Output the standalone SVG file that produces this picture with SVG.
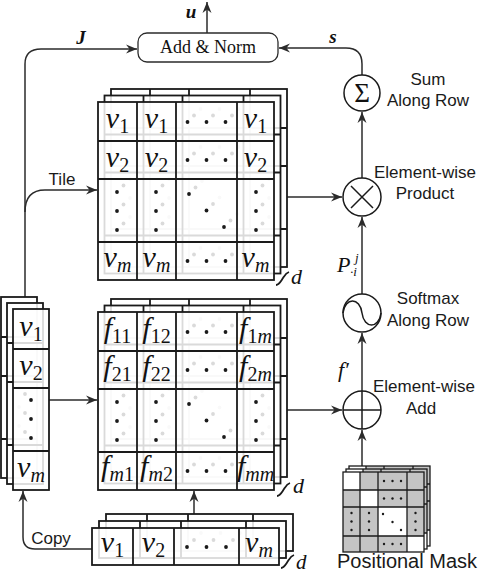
<svg xmlns="http://www.w3.org/2000/svg" width="482" height="574" viewBox="0 0 482 574">
<style>
.g{stroke:#1a1a1a;stroke-width:1.8;fill:none}
.lay{fill:#fff;fill-opacity:0.84;stroke:#1a1a1a;stroke-width:1.8}
.d{fill:#1a1a1a}
.c{stroke:#2b2b2b;stroke-width:1.5;fill:none;marker-end:url(#arr)}
.op{fill:#fff;stroke:#1a1a1a;stroke-width:1.5}
.lbl{font-family:"Liberation Sans",Arial,sans-serif;font-size:17px;fill:#1a1a1a;text-anchor:middle}
.big{font-size:20px}
.m{font-family:"Liberation Serif","Times New Roman",serif;font-style:italic;fill:#111}
.mv{font-size:30px;text-anchor:middle}
.s{font-size:20px}
.n{font-style:normal}
.bm{font-weight:bold;font-size:19px;text-anchor:middle}
.mg{stroke:#1a1a1a;stroke-width:1.3;fill:none}
.gr{fill:#c4c4c4}
.wh{fill:#fff}
</style>
<defs>
<marker id="arr" markerUnits="userSpaceOnUse" markerWidth="12" markerHeight="10" refX="11" refY="5" orient="auto"><path d="M0,0.5L11,5L0,9.5L3.5,5Z" fill="#2b2b2b"/></marker>
<g id="mdots" class="d">
<circle cx="89.5" cy="20" r="1.9"/><circle cx="108.5" cy="20" r="1.9"/><circle cx="127.5" cy="20" r="1.9"/>
<circle cx="89.5" cy="58" r="1.9"/><circle cx="108.5" cy="58" r="1.9"/><circle cx="127.5" cy="58" r="1.9"/>
<circle cx="19" cy="90" r="1.9"/><circle cx="19" cy="109" r="1.9"/><circle cx="19" cy="128" r="1.9"/>
<circle cx="58" cy="90" r="1.9"/><circle cx="58" cy="109" r="1.9"/><circle cx="58" cy="128" r="1.9"/>
<circle cx="91" cy="92" r="1.9"/><circle cx="108.5" cy="108.5" r="1.9"/><circle cx="126" cy="125" r="1.9"/>
<circle cx="158" cy="90" r="1.9"/><circle cx="158" cy="109" r="1.9"/><circle cx="158" cy="128" r="1.9"/>
<circle cx="89.5" cy="159" r="1.9"/><circle cx="108.5" cy="159" r="1.9"/><circle cx="127.5" cy="159" r="1.9"/>
</g>
<g id="mlay">
<rect class="lay" width="176" height="178"/>
<path class="g" d="M39,0V178M78,0V178M139,0V178M0,39H176M0,77H176M0,140H176"/>
<use href="#mdots"/>
</g>
<g id="vlay">
<rect class="lay" width="36" height="181"/>
<path class="g" d="M0,40H36M0,79H36M0,142H36"/>
<g class="d"><circle cx="18" cy="91" r="1.9"/><circle cx="18" cy="110" r="1.9"/><circle cx="18" cy="129" r="1.9"/></g>
</g>
<g id="hlay">
<rect class="lay" width="187" height="37"/>
<path class="g" d="M41,0V37M82,0V37M147,0V37"/>
<g class="d"><circle cx="95" cy="19" r="1.9"/><circle cx="114.5" cy="19" r="1.9"/><circle cx="134" cy="19" r="1.9"/></g>
</g>
<g id="mklay">
<rect class="gr" width="81" height="80"/>
<rect class="wh" x="0" y="0" width="17" height="18"/>
<rect class="wh" x="17" y="18" width="18" height="17"/>
<rect class="wh" x="35" y="35" width="29" height="29"/>
<rect class="wh" x="64" y="64" width="17" height="16"/>
<rect class="mg" width="81" height="80"/>
<path class="mg" d="M17,0V80M35,0V80M64,0V80M0,18H81M0,35H81M0,64H81"/>
<g class="d">
<circle cx="41" cy="9" r="1.2"/><circle cx="49.5" cy="9" r="1.2"/><circle cx="58" cy="9" r="1.2"/>
<circle cx="41" cy="26.5" r="1.2"/><circle cx="49.5" cy="26.5" r="1.2"/><circle cx="58" cy="26.5" r="1.2"/>
<circle cx="8.5" cy="41" r="1.2"/><circle cx="8.5" cy="49.5" r="1.2"/><circle cx="8.5" cy="58" r="1.2"/>
<circle cx="26" cy="41" r="1.2"/><circle cx="26" cy="49.5" r="1.2"/><circle cx="26" cy="58" r="1.2"/>
<circle cx="40" cy="42" r="1.2"/><circle cx="49.5" cy="50" r="1.2"/><circle cx="58" cy="58" r="1.2"/>
<circle cx="72.5" cy="41" r="1.2"/><circle cx="72.5" cy="49.5" r="1.2"/><circle cx="72.5" cy="58" r="1.2"/>
<circle cx="41" cy="72" r="1.2"/><circle cx="49.5" cy="72" r="1.2"/><circle cx="58" cy="72" r="1.2"/>
</g>
</g>
</defs>

<g id="connectors">
<path class="c" d="M207,33V2"/>
<path class="c" d="M25,297V64Q25,49 41,49H137"/>
<path class="c" d="M25,212Q25,190 45,190H97"/>
<path class="c" d="M362,75V64Q362,48 346,48H279"/>
<path class="c" d="M362,178V112"/>
<path class="c" d="M362,294V217"/>
<path class="c" d="M362,391V333"/>
<path class="c" d="M362,466V430"/>
<path class="c" d="M287,197H342"/>
<path class="c" d="M287,410H342"/>
<path class="c" d="M49,400H97"/>
<path class="c" d="M194,514V491"/>
<path class="c" d="M92,549H35Q23,549 23,537V491"/>
</g>

<g id="add-norm">
<rect x="138" y="33" width="140" height="29" rx="9" fill="#fff" stroke="#2b2b2b" stroke-width="1.3"/>
<text x="208" y="53" font-family="Liberation Serif, Times New Roman, serif" font-size="18" text-anchor="middle" fill="#111">Add &amp; Norm</text>
</g>

<g id="tile-matrix">
<use href="#mlay" x="111" y="89"/>
<use href="#mlay" x="104.5" y="95.5"/>
<g transform="translate(98,102)">
<use href="#mlay"/>
<g class="m mv">
<text x="19.5" y="26">v<tspan class="s n" dy="5">1</tspan></text>
<text x="58.5" y="26">v<tspan class="s n" dy="5">1</tspan></text>
<text x="157.5" y="26">v<tspan class="s n" dy="5">1</tspan></text>
<text x="19.5" y="65">v<tspan class="s n" dy="5">2</tspan></text>
<text x="58.5" y="65">v<tspan class="s n" dy="5">2</tspan></text>
<text x="157.5" y="65">v<tspan class="s n" dy="5">2</tspan></text>
<text x="19.5" y="165">v<tspan class="s" dy="5">m</tspan></text>
<text x="58.5" y="165">v<tspan class="s" dy="5">m</tspan></text>
<text x="157.5" y="165">v<tspan class="s" dy="5">m</tspan></text>
</g>
</g>
<path class="g" stroke-width="1.5" d="M276,285C279,285 281,281 283,278C285,275 286,273 289,272"/>
<text class="m" x="291" y="284" font-size="22">d</text>
</g>

<g id="f-matrix">
<use href="#mlay" x="111" y="299"/>
<use href="#mlay" x="104.5" y="305.5"/>
<g transform="translate(98,312)">
<use href="#mlay"/>
<g class="m mv">
<text x="19.5" y="26">f<tspan class="s n" dy="5">11</tspan></text>
<text x="58.5" y="26">f<tspan class="s n" dy="5">12</tspan></text>
<text x="157.5" y="26">f<tspan class="s n" dy="5">1</tspan><tspan class="s">m</tspan></text>
<text x="19.5" y="64">f<tspan class="s n" dy="5">21</tspan></text>
<text x="58.5" y="64">f<tspan class="s n" dy="5">22</tspan></text>
<text x="157.5" y="64">f<tspan class="s n" dy="5">2</tspan><tspan class="s">m</tspan></text>
<text x="19.5" y="164">f<tspan class="s" dy="5">m</tspan><tspan class="s n">1</tspan></text>
<text x="58.5" y="164">f<tspan class="s" dy="5">m</tspan><tspan class="s n">2</tspan></text>
<text x="157.5" y="164">f<tspan class="s" dy="5">mm</tspan></text>
</g>
</g>
<path class="g" stroke-width="1.5" d="M277,496C280,496 282,492 284,489C286,486 287,484 290,483"/>
<text class="m" x="293" y="493" font-size="22">d</text>
</g>

<g id="left-vector">
<use href="#vlay" x="1" y="297"/>
<use href="#vlay" x="7" y="303"/>
<g transform="translate(13,309)">
<use href="#vlay"/>
<g class="m mv">
<text x="18" y="27">v<tspan class="s n" dy="5">1</tspan></text>
<text x="18" y="66">v<tspan class="s n" dy="5">2</tspan></text>
<text x="18" y="168">v<tspan class="s" dy="5">m</tspan></text>
</g>
</g>
</g>

<g id="bottom-vector">
<use href="#hlay" x="106" y="514"/>
<use href="#hlay" x="99" y="521"/>
<g transform="translate(92,528)">
<use href="#hlay"/>
<g class="m mv">
<text x="20.5" y="24">v<tspan class="s n" dy="5">1</tspan></text>
<text x="61.5" y="24">v<tspan class="s n" dy="5">2</tspan></text>
<text x="167" y="24">v<tspan class="s" dy="5">m</tspan></text>
</g>
</g>
<path class="g" stroke-width="1.5" d="M281,568C284,568 286,564 288,561C290,558 291,556 294,555"/>
<text class="m" x="296" y="569" font-size="21">d</text>
</g>

<g id="positional-mask">
<use href="#mklay" x="349" y="466"/>
<use href="#mklay" x="346" y="469"/>
<use href="#mklay" x="343" y="472"/>
<text class="lbl big" x="407" y="568">Positional Mask</text>
</g>

<g id="op-sum">
<circle class="op" cx="362" cy="93" r="18"/>
<text x="362" y="102" font-family="Liberation Serif, Times New Roman, serif" font-size="27" text-anchor="middle" fill="#111">Σ</text>
<text class="lbl" x="428" y="85">Sum</text>
<text class="lbl" x="428" y="106">Along Row</text>
</g>

<g id="op-product">
<circle class="op" cx="362" cy="197" r="19"/>
<path d="M351,186L373,208M373,186L351,208" stroke="#1a1a1a" stroke-width="1.5"/>
<text class="lbl" x="425" y="178">Element-wise</text>
<text class="lbl" x="425" y="199">Product</text>
</g>

<g id="op-softmax">
<circle class="op" cx="362" cy="313" r="19"/>
<path d="M343,313C345,297 360,297 362,313C364,329 379,329 381,313" fill="none" stroke="#1a1a1a" stroke-width="1.5"/>
<text class="lbl" x="428" y="304">Softmax</text>
<text class="lbl" x="428" y="326">Along Row</text>
<text class="m" x="337" y="272" font-size="22">P</text>
<text class="m" x="355" y="262" font-size="13">j</text>
<text class="m" x="350" y="276" font-size="13">·i</text>
</g>

<g id="op-add">
<circle class="op" cx="362" cy="410" r="19"/>
<path d="M343,410H381M362,391V429" stroke="#1a1a1a" stroke-width="1.5"/>
<text class="lbl" x="424" y="392">Element-wise</text>
<text class="lbl" x="421" y="414">Add</text>
<text class="m" x="338" y="377" font-size="22">f′</text>
</g>

<g id="labels">
<text class="m bm" x="191" y="18">u</text>
<text class="m bm" x="81" y="44">J</text>
<text class="m bm" x="333" y="43">s</text>
<text class="lbl" x="62" y="185">Tile</text>
<text class="lbl" x="51" y="544">Copy</text>
</g>
</svg>
